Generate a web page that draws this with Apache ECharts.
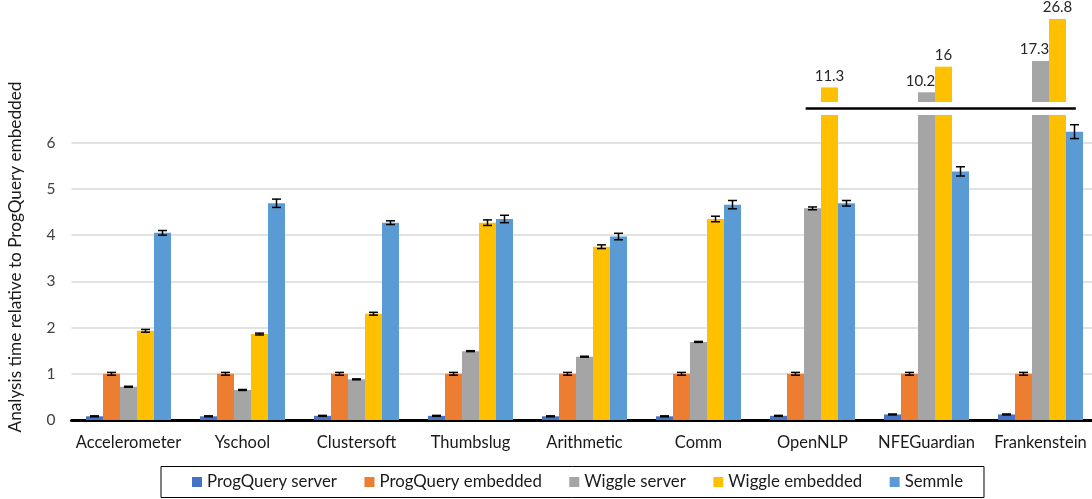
<!DOCTYPE html>
<html><head><meta charset="utf-8">
<script src="https://cdn.jsdelivr.net/npm/echarts@6/dist/echarts.min.js"></script>
<style>html,body{margin:0;padding:0;background:#fff}#c{width:1092px;height:499px}</style>
</head><body><div id="c"></div>
<script>
const categories = ['Accelerometer','Yschool','Clustersoft','Thumbslug','Arithmetic','Comm','OpenNLP','NFEGuardian','Frankenstein'];
const seriesNames = ['ProgQuery server','ProgQuery embedded','Wiggle server','Wiggle embedded','Semmle'];
const colors = ['#4472C4','#ED7D31','#A5A5A5','#FFC000','#5B9BD5'];
const pqServer       = [0.08,0.08,0.09,0.09,0.08,0.08,0.09,0.12,0.12];
const pqEmbedded     = [1,1,1,1,1,1,1,1,1];
const wiggleServer   = [0.72,0.65,0.88,1.49,1.37,1.69,4.58,10.2,17.3];
const wiggleEmbedded = [1.93,1.86,2.30,4.27,3.75,4.35,11.3,16,26.8];
const semmle         = [4.05,4.69,4.27,4.35,3.97,4.66,4.69,5.38,6.24];
const pqServerErr       = [0.01,0.01,0.01,0.01,0.01,0.01,0.01,0.01,0.01];
const pqEmbeddedErr     = [0.03,0.03,0.03,0.03,0.03,0.03,0.03,0.03,0.03];
const wiggleServerErr   = [0.01,0.01,0.01,0.01,0.01,0.01,0.03,null,null];
const wiggleEmbeddedErr = [0.03,0.02,0.03,0.06,0.04,0.06,null,null,null];
const semmleErr         = [0.05,0.09,0.04,0.08,0.07,0.09,0.06,0.10,0.15];
const yTicks = [0,1,2,3,4,5,6];
const lowerMax = 6.6;   // axis break: lower part
const upperMin = 8;     // axis break: upper part
const upperMax = 26.8;

const values = [pqServer,pqEmbedded,wiggleServer,wiggleEmbedded,semmle];
const errs = [pqServerErr,pqEmbeddedErr,wiggleServerErr,wiggleEmbeddedErr,semmleErr];
const FONT = 'Lato';
const BW = 17;

const chart = echarts.init(document.getElementById('c'));
const series = [];
values.forEach((vals, s) => {
  series.push({
    name: seriesNames[s], type: 'bar', xAxisIndex: 0, yAxisIndex: 0,
    data: vals, barWidth: BW, barGap: '0%', clip: true,
    itemStyle: {color: colors[s]}, emphasis: {disabled: true}
  });
});
values.forEach((vals, s) => {
  series.push({
    name: seriesNames[s], type: 'bar', xAxisIndex: 1, yAxisIndex: 1,
    data: vals.map(v => v > lowerMax ? v : null), barWidth: BW, barGap: '0%',
    itemStyle: {color: colors[s]}, emphasis: {disabled: true},
    label: {show: true, position: 'top', distance: 4, offset: s === 2 ? [-6, 0] : [0, 0],
      fontFamily: FONT, fontSize: 15, color: '#262626'}
  });
});
const errData = [];
values.forEach((vals, s) => vals.forEach((v, i) => {
  if (errs[s][i] != null && v <= lowerMax) errData.push([i, v, errs[s][i], s]);
}));
series.push({
  type: 'custom', xAxisIndex: 0, yAxisIndex: 0, z: 10, silent: true,
  encode: {x: 0, y: 1},
  data: errData,
  renderItem: (params, api) => {
    const i = api.value(0), v = api.value(1), e = api.value(2), s = api.value(3);
    const c = api.coord([i, v]);
    const x = c[0] + (s - 2) * BW;
    const yt = api.coord([i, v + e])[1];
    const yb = api.coord([i, v - e])[1];
    const hw = 4.5;
    const st = {stroke: '#000', lineWidth: 1.5};
    return {type: 'group', children: [
      {type: 'line', shape: {x1: x, y1: yt, x2: x, y2: yb}, style: st},
      {type: 'line', shape: {x1: x - hw, y1: yt, x2: x + hw, y2: yt}, style: st},
      {type: 'line', shape: {x1: x - hw, y1: yb, x2: x + hw, y2: yb}, style: st}
    ]};
  }
});

const option = {
  animation: false,
  textStyle: {fontFamily: FONT},
  grid: [
    {left: 71.5, width: 1026, top: 115, bottom: 79, outerBoundsMode: 'none', containLabel: false},
    {left: 71.5, width: 1026, top: 19, bottom: 397, outerBoundsMode: 'none', containLabel: false}
  ],
  xAxis: [
    {type: 'category', gridIndex: 0, data: categories,
     axisLine: {lineStyle: {color: '#000', width: 3}}, axisTick: {show: false},
     axisLabel: {interval: 0, fontFamily: FONT, fontSize: 16.5, color: '#1a1a1a', margin: 14}},
    {type: 'category', gridIndex: 1, data: categories, show: false}
  ],
  yAxis: [
    {type: 'value', gridIndex: 0, min: yTicks[0], max: lowerMax, interval: 1,
     axisLine: {show: false}, axisTick: {show: false},
     axisLabel: {showMaxLabel: false, fontFamily: FONT, fontSize: 15.5, color: '#404040', margin: 16},
     splitLine: {showMaxLine: false, lineStyle: {color: '#d9d9d9', width: 1.5}}},
    {type: 'value', gridIndex: 1, min: upperMin, max: upperMax, show: false, splitLine: {show: false}}
  ],
  legend: {
    data: seriesNames, left: 161, top: 466.5, orient: 'horizontal',
    icon: 'rect', itemWidth: 10, itemHeight: 10, itemGap: 27.5,
    padding: [7, 21, 7, 31], borderColor: '#000', borderWidth: 1,
    textStyle: {fontFamily: FONT, fontSize: 16.8, color: '#1a1a1a'},
    selectedMode: false
  },
  series: series
};
chart.setOption(option);

const xa = n => chart.convertToPixel({xAxisIndex: 0}, n);
const band = xa(categories[1]) - xa(categories[0]);
const yBreak = (chart.convertToPixel({yAxisIndex: 0}, lowerMax) + chart.convertToPixel({yAxisIndex: 1}, upperMin)) / 2;
chart.setOption({
  graphic: [
    {type: 'line', shape: {x1: xa('OpenNLP') - 0.06 * band, y1: yBreak, x2: xa('Frankenstein') + 0.31 * band, y2: yBreak},
     style: {stroke: '#000', lineWidth: 2.5}, z: 20},
    {type: 'text', x: 15, y: 257, rotation: Math.PI / 2,
     style: {text: 'Analysis time relative to ProgQuery embedded', fontFamily: FONT, fontSize: 17.2, fill: '#1a1a1a',
       align: 'center', verticalAlign: 'middle'}}
  ]
});
</script></body></html>
